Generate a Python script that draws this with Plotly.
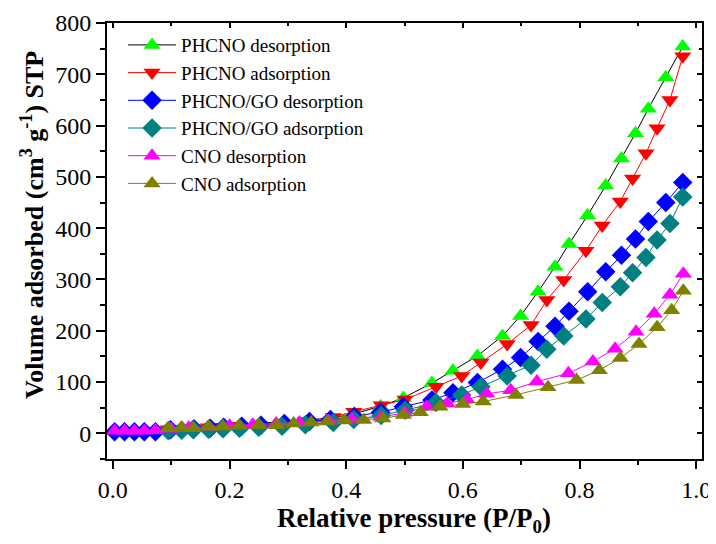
import plotly.graph_objects as go

# ---------------- data ----------------
x_phcno_des = [0.003, 0.02, 0.037, 0.054, 0.073, 0.099, 0.139, 0.167, 0.19, 0.221, 0.254, 0.294, 0.337, 0.373,
               0.414, 0.459, 0.498, 0.547, 0.583, 0.625, 0.668, 0.699, 0.729, 0.758, 0.782, 0.814, 0.845, 0.872,
               0.896, 0.918, 0.948, 0.977]
y_phcno_des = [5, 6, 6, 7, 7, 10, 12, 14, 15, 17, 20, 23, 26, 30, 38, 53, 69, 98, 122, 151, 190, 229, 276, 325,
               369, 425, 483, 536, 585, 633, 694, 754]

x_phcno_ads = [0.095, 0.118, 0.138, 0.164, 0.189, 0.217, 0.25, 0.29, 0.33, 0.378, 0.413, 0.46, 0.501, 0.554,
               0.598, 0.631, 0.676, 0.717, 0.744, 0.773, 0.811, 0.839, 0.870, 0.891, 0.914, 0.933, 0.955, 0.977]
y_phcno_ads = [8, 9, 10, 12, 13, 15, 17, 20, 24, 32, 42, 55, 66, 91, 112, 138, 174, 211, 260, 299, 356, 405,
               452, 497, 546, 595, 650, 735]

x_go_des = x_phcno_des
y_go_des = [3, 3, 3, 3, 3, 7, 9, 10, 12, 14, 16, 19, 23, 27, 33, 41, 52, 65, 79, 99, 125, 148, 179, 209, 238,
            276, 315, 347, 379, 413, 450, 489]

x_go_ads = x_phcno_ads
y_go_ads = [5, 6, 7, 8, 9, 10, 12, 14, 17, 21, 27, 35, 45, 60, 75, 91, 112, 133, 164, 190, 223, 255, 286, 313,
            343, 377, 409, 461]

x_cno_des = [0.003, 0.02, 0.037, 0.054, 0.073, 0.1, 0.13, 0.165, 0.2, 0.24, 0.28, 0.32, 0.37, 0.41, 0.46, 0.50,
             0.538, 0.573, 0.607, 0.641, 0.682, 0.727, 0.781, 0.823, 0.861, 0.897, 0.928, 0.955, 0.978]
y_cno_des = [5, 5, 5, 5, 6, 9, 11, 13, 15, 17, 19, 21, 24, 27, 32, 40, 52, 58, 66, 77, 84, 101, 117, 140, 165,
             198, 233, 270, 311]

x_cno_ads = [0.095, 0.118, 0.138, 0.164, 0.189, 0.217, 0.25, 0.281, 0.31, 0.34, 0.367, 0.397, 0.43, 0.463,
             0.498, 0.527, 0.561, 0.600, 0.635, 0.691, 0.746, 0.795, 0.834, 0.870, 0.902, 0.933, 0.958, 0.978]
y_cno_ads = [10, 11, 10, 13, 13, 15, 16, 16, 19, 21, 23, 25, 26, 29, 36, 41, 52, 57, 62, 75, 90, 104, 123, 147,
             174, 207, 240, 278]

series_names = ["PHCNO desorption", "PHCNO adsorption", "PHCNO/GO desorption",
                "PHCNO/GO adsorption", "CNO desorption", "CNO adsorption"]

# ---------------- figure ----------------
FONT = "Liberation Serif, Times New Roman, serif"
fig = go.Figure()

specs = [
    (x_phcno_des, y_phcno_des, "triangle-up", "#00FF00", "#000000", 15),
    (x_phcno_ads, y_phcno_ads, "triangle-down", "#FF0000", "#FF0000", 15),
    (x_go_des, y_go_des, "diamond", "#0000FF", "#0000FF", 15),
    (x_go_ads, y_go_ads, "diamond", "#008080", "#008080", 15),
    (x_cno_des, y_cno_des, "triangle-up", "#FF00FF", "#FF00FF", 15),
    (x_cno_ads, y_cno_ads, "triangle-up", "#808000", "#808000", 15),
]
for i, ((xs, ys, sym, mc, lc, ms), name) in enumerate(zip(specs, series_names)):
    fig.add_trace(go.Scatter(
        x=xs, y=ys, name=name, mode="lines+markers",
        line=dict(color=lc, width=1),
        marker=dict(symbol=sym, color=mc, size=ms, line=dict(width=0)),
    ))

# invisible trace to drive the mirrored (inside-tick) axes
fig.add_trace(go.Scatter(x=[0.5], y=[0], xaxis="x2", yaxis="y2", mode="markers",
                         marker=dict(opacity=0), showlegend=False, hoverinfo="skip"))

axis_common = dict(showgrid=False, zeroline=False, linecolor="black", linewidth=2,
                   tickcolor="black", tickwidth=1.5, automargin=False)

fig.update_layout(
    width=708, height=536,
    margin=dict(l=99, r=14, t=15, b=85),
    paper_bgcolor="white", plot_bgcolor="white",
    font=dict(family=FONT, color="black"),
    showlegend=True,
    legend=dict(x=0.027, y=0.993, xanchor="left", yanchor="top", itemwidth=48,
                font=dict(family=FONT, size=19, color="black"),
                bgcolor="rgba(0,0,0,0)"),
    xaxis=dict(range=[-0.01, 1.01], dtick=0.2, tick0=0, tickformat=".1f",
               ticks="outside", ticklen=8, showline=True,
               tickfont=dict(family=FONT, size=24),
               minor=dict(dtick=0.1, ticks="outside", ticklen=4, tickcolor="black", tickwidth=1.5),
               **axis_common),
    yaxis=dict(range=[-50, 800], dtick=100, tick0=0,
               ticks="outside", ticklen=9, showline=True,
               tickfont=dict(family=FONT, size=24),
               minor=dict(dtick=50, ticks="outside", ticklen=5, tickcolor="black", tickwidth=1.5),
               **axis_common),
    xaxis2=dict(overlaying="x", side="top", matches="x", range=[-0.01, 1.01], dtick=0.2, tick0=0,
                ticks="inside", ticklen=5, showticklabels=False, showline=True,
                minor=dict(dtick=0.1, ticks="inside", ticklen=3, tickcolor="black", tickwidth=1.5),
                **axis_common),
    yaxis2=dict(overlaying="y", side="right", matches="y", range=[-50, 800], dtick=100, tick0=0,
                ticks="inside", ticklen=5, showticklabels=False, showline=True,
                minor=dict(dtick=50, ticks="inside", ticklen=3, tickcolor="black", tickwidth=1.5),
                **axis_common),
    annotations=[
        dict(text="<b>Volume adsorbed (cm<sup>3</sup> g<sup>-1</sup>) STP</b>",
             textangle=-90, xref="paper", yref="paper", x=-0.124, y=0.537,
             xanchor="center", yanchor="middle", showarrow=False,
             font=dict(family=FONT, size=26, color="black")),
        dict(text="<b>Relative pressure (P/P<sub>0</sub>)</b>",
             xref="paper", yref="paper", x=0.516, y=-0.141,
             xanchor="center", yanchor="middle", showarrow=False,
             font=dict(family=FONT, size=27, color="black")),
    ],
)

fig.write_html("out.html")
